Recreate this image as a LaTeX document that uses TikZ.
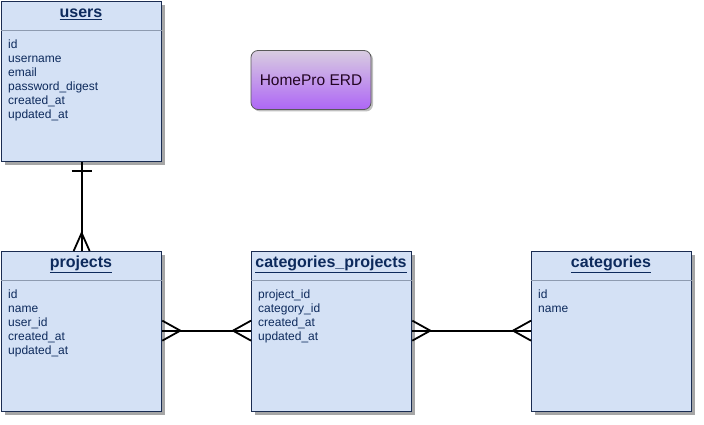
\documentclass[tikz,border=0pt]{standalone}
\usepackage{fontspec}
\setmainfont{Liberation Sans}
\usetikzlibrary{shadows,calc}
\definecolor{tblfill}{HTML}{D4E1F5}
\definecolor{tbldraw}{HTML}{1A2C52}
\definecolor{tbltext}{HTML}{0D2A5C}
\definecolor{divcol}{HTML}{8E9BB0}
\definecolor{ergtop}{HTML}{D8CCE0}
\definecolor{ergbot}{HTML}{AE66F6}
\tikzset{
  tbl/.style={draw=tbldraw, line width=1.3pt, fill=tblfill, minimum width=160pt, minimum height=160pt, anchor=north west, inner sep=0pt,
    drop shadow={shadow xshift=3pt, shadow yshift=-3pt, fill=black, opacity=0.35}},
  ttl/.style={font=\fontsize{16}{18}\selectfont\bfseries, text=tbltext, inner sep=0pt},
  flds/.style={font=\fontsize{12}{14}\selectfont, text=tbltext, align=left, anchor=north west, inner sep=0pt},
  divline/.style={draw=divcol, line width=0.8pt},
  rel/.style={draw=black, line width=1.8pt},
}
\begin{document}
\begin{tikzpicture}[x=1pt,y=-1pt]
\useasboundingbox (0,0) rectangle (704,425);
% tables
\node[tbl] (users) at (1,1) {};
\node[tbl] (projects) at (1,251) {};
\node[tbl] (cp) at (251,251) {};
\node[tbl] (cats) at (531,251) {};
% title box
\node[draw=gray!70!black, line width=0.8pt, rounded corners=7pt, minimum width=120pt, minimum height=59pt, top color=ergtop, bottom color=ergbot,
  drop shadow={shadow xshift=2pt, shadow yshift=-2pt, fill=black, opacity=0.25},
  font=\fontsize{15.5}{17}\selectfont, text={rgb,255:red,35;green,5;blue,35}] (erd) at (311,80) {HomePro ERD};
% dividers
\draw[divline] ($(users.north west)+(0,29)$) -- ($(users.north east)+(0,29)$);
\draw[divline] ($(projects.north west)+(0,29)$) -- ($(projects.north east)+(0,29)$);
\draw[divline] ($(cp.north west)+(0,29)$) -- ($(cp.north east)+(0,29)$);
\draw[divline] ($(cats.north west)+(0,29)$) -- ($(cats.north east)+(0,29)$);
% titles
\node[ttl] (usersT) at (81,14) {\underline{users}};
\node[ttl] (projectsT) at (81,264) {\underline{projects}};
\node[ttl] (cpT) at (331,264) {\underline{categories\_projects}};
\node[ttl] (catsT) at (611,264) {\underline{categories}};
% fields
\node[flds] (usersF) at (8,39.5) {id\\username\\email\\password\_digest\\created\_at\\updated\_at};
\node[flds] (projectsF) at (8,289.5) {id\\name\\user\_id\\created\_at\\updated\_at};
\node[flds] (cpF) at (258,289.5) {project\_id\\category\_id\\created\_at\\updated\_at};
\node[flds] (catsF) at (538,289.5) {id\\name};
% users -- projects (one to many)
\draw[rel] (users.south) -- (projects.north);
\draw[rel] ($(users.south)+(-10,9)$) -- ($(users.south)+(10,9)$);
\draw[rel] ($(projects.north)+(-8,0)$) -- ($(projects.north)+(0,-18)$) -- ($(projects.north)+(8,0)$);
% projects -- categories_projects
\coordinate (p1) at ($(projects.east)+(0,-1)$);
\coordinate (c1) at ($(cp.west)+(0,-1)$);
\draw[rel] (p1) -- (c1);
\draw[rel] ($(p1)+(0,-10)$) -- ($(p1)+(18,0)$) -- ($(p1)+(0,10)$);
\draw[rel] ($(c1)+(0,-10)$) -- ($(c1)+(-18,0)$) -- ($(c1)+(0,10)$);
% categories_projects -- categories
\coordinate (c2) at ($(cp.east)+(0,-1)$);
\coordinate (k1) at ($(cats.west)+(0,-1)$);
\draw[rel] (c2) -- (k1);
\draw[rel] ($(c2)+(0,-10)$) -- ($(c2)+(18,0)$) -- ($(c2)+(0,10)$);
\draw[rel] ($(k1)+(0,-10)$) -- ($(k1)+(-18,0)$) -- ($(k1)+(0,10)$);
\end{tikzpicture}
\end{document}
